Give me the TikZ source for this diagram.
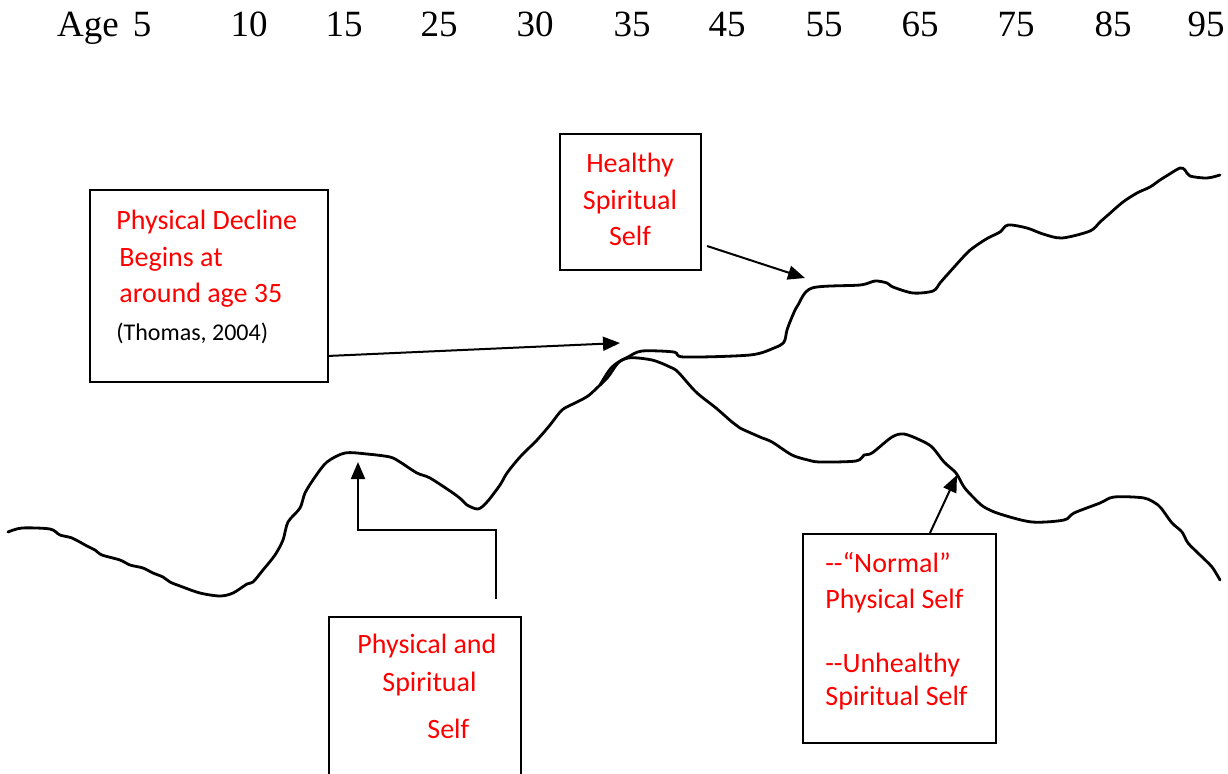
\documentclass[tikz,border=0pt]{standalone}
\usepackage{fontspec}
\setmainfont{Liberation Serif}
\newfontfamily\notefont{Carlito}
\usepackage{tikz}
\usetikzlibrary{arrows.meta, positioning, calc}
\definecolor{notered}{HTML}{FF0000}

\begin{document}
\begin{tikzpicture}[x=0.5pt, y=-0.5pt,
  notebox/.style={draw=black, line width=1.1pt, inner sep=0pt},
  notetext/.style={font=\notefont\fontsize{14}{19}\selectfont, text=notered, inner sep=0pt, anchor=base west},
  agelabel/.style={font=\fontsize{18.5}{20}\selectfont, inner sep=0pt, anchor=base},
  lifeline/.style={line width=1.4pt, line join=round, line cap=round},
  pointer/.style={-{Triangle[length=8.5pt,width=7pt]}, line width=1pt}
]
  \useasboundingbox (0,0) rectangle (1228,773);

  \node[agelabel] (agehead) at (88,36) {Age};
  \foreach \age/\xpos in {5/142, 10/249, 15/344, 25/439, 30/535, 35/632, 45/727, 55/824, 65/920, 75/1016, 85/1113, 95/1206}
    \node[agelabel] (age\age) at (\xpos,36) {\age};

  \draw[lifeline] plot[smooth, tension=0.5] coordinates {(8,532) (22,528) (50,529) (60,535) (72,538) (87,546) (95,550) (102,555) (120,560) (130,565) (143,568) (153,573) (163,577) (170,582) (180,586) (200,593) (220,596) (233,593) (247,584) (253,582) (263,570) (275,555) (283,540) (288,522) (300,508) (305,493) (315,477) (327,462) (345,453) (367,454) (390,457) (400,462) (417,473) (430,478) (453,493) (462,500) (467,505) (478,509) (487,502) (500,485) (507,473) (520,457) (537,440) (550,425) (562,410) (575,403) (588,396) (600,385)};
  \draw[lifeline] plot[smooth, tension=0.5] coordinates {(600,385) (608,377) (618,363) (628,357) (642,351) (674,352) (684,357) (750,355) (774,348) (784,342) (787,330) (792,317) (798,305) (812,288) (860,285) (875,281) (887,283) (893,287) (913,293) (933,291) (940,283) (947,275) (967,253) (977,245) (988,238) (1000,232) (1008,225) (1027,228) (1043,234) (1062,238) (1090,231) (1100,222) (1108,215) (1123,202) (1137,193) (1150,187) (1160,180) (1168,175) (1180,168) (1185,170) (1190,176) (1207,178) (1220,175)};
  \draw[lifeline] plot[smooth, tension=0.5] coordinates {(600,385) (612,367) (628,358) (652,360) (670,367) (678,372) (696,392) (716,408) (732,422) (740,428) (760,437) (772,442) (792,455) (808,460) (820,462) (856,461) (864,455) (872,453) (892,437) (904,434) (920,440) (932,447) (944,462) (956,473) (964,487) (974,498) (984,507) (1000,514) (1032,522) (1064,520) (1074,513) (1100,503) (1114,497) (1144,498) (1158,505) (1164,512) (1172,523) (1182,532) (1188,543) (1200,555) (1212,567) (1220,580)};

  \coordinate (turn35) at (620,343);
  \coordinate (rise55) at (805,278);
  \coordinate (peak15) at (358,462);
  \coordinate (drop65) at (957,475);

  \node[notebox, minimum width=119pt, minimum height=96pt] (decline) at (209,286) {};
  \node[notetext] (decl1) at (116,229) {Physical Decline};
  \node[notetext] (decl2) at (119,266) {Begins at};
  \node[notetext] (decl3) at (119,302) {around age 35};
  \node[notetext, text=black, font=\notefont\fontsize{12}{14}\selectfont] (decl4) at (116,340) {(Thomas, 2004)};

  \node[notebox, minimum width=70.5pt, minimum height=68pt] (healthy) at (630.5,202) {};
  \node[notetext, anchor=base] (heal1) at (630,172) {Healthy};
  \node[notetext, anchor=base] (heal2) at (630,209) {Spiritual};
  \node[notetext, anchor=base] (heal3) at (630,245) {Self};

  \node[notebox, minimum width=96pt, minimum height=91.5pt] (both) at (425,708.5) {};
  \node[notetext] (both1) at (357,653) {Physical and};
  \node[notetext] (both2) at (382,691) {Spiritual};
  \node[notetext] (both3) at (427,738) {Self};

  \node[notebox, minimum width=96.5pt, minimum height=104.5pt] (normal) at (899.5,638.5) {};
  \node[notetext] (norm1) at (825,572) {--“Normal”};
  \node[notetext] (norm2) at (825,608) {Physical Self};
  \node[notetext] (norm3) at (825,672) {--Unhealthy};
  \node[notetext] (norm4) at (825,705) {Spiritual Self};

  \draw[pointer] ([xshift=-1pt, yshift=-35pt]decline.east) -- (turn35);
  \draw[pointer] ([xshift=2.5pt, yshift=-22pt]healthy.east) -- (rise55);
  \draw[pointer] ([xshift=35.5pt, yshift=8.5pt]both.north) |- ($(peak15)+(0,68)$) -- (peak15);
  \draw[pointer] ([xshift=15.25pt]normal.north) -- (drop65);
\end{tikzpicture}
\end{document}
